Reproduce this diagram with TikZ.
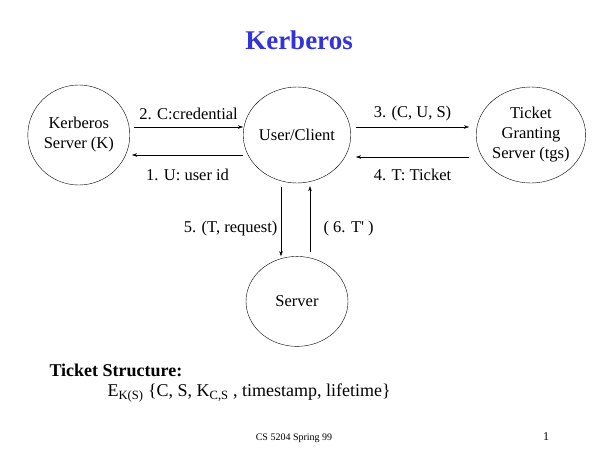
\documentclass[tikz,border=0pt]{standalone}
\usepackage{fontspec}
\setmainfont{Liberation Serif}
\usetikzlibrary{positioning,arrows.meta,shapes.geometric}
\definecolor{titleblue}{RGB}{51,51,221}

\begin{document}
\begin{tikzpicture}[x=1pt,y=-1pt,->,>={Stealth[length=5pt,width=3.5pt]},thin,
                    party/.style={draw,ellipse,inner sep=0pt,align=center,
                                  font=\fontsize{16.5}{20}\selectfont},
                    msg/.style={font=\fontsize{16.5}{20}\selectfont}]

        \useasboundingbox (0,0) rectangle (600,450);

        % Title
        \node[font=\fontsize{27}{30}\selectfont\bfseries,text=titleblue] (title) at (299,40) {Kerberos};

        % Define parties
        \node[party,minimum width=104pt,minimum height=96pt] (uc) at (297,135) {User/Client};
        \node[party,minimum width=102pt,minimum height=100pt] (ks) [left=113pt of uc] {Kerberos\\Server (K)};
        \node[party,minimum width=108pt,minimum height=96pt] (tgs) [right=125pt of uc] {Ticket\\Granting\\Server (tgs)};
        \node[party,minimum width=102pt,minimum height=90pt] (srv) [below=73pt of uc] {Server};

        % Draw messages
        \draw ([yshift=8pt,xshift=4pt]ks.east) -- ([yshift=8pt]uc.west)
            node[msg,midway,above=4pt] {2. C:credential};
        \draw ([yshift=-20pt]uc.west) -- ([yshift=-20pt,xshift=2pt]ks.east)
            node[msg,midway,below=11pt] {1. U: user id};
        \draw ([yshift=8pt,xshift=5pt]uc.east) -- ([yshift=8pt,xshift=-7pt]tgs.west)
            node[msg,midway,above=2pt] {3. (C, U, S)};
        \draw ([yshift=-22pt,xshift=-7pt]tgs.west) -- ([yshift=-22pt,xshift=5pt]uc.east)
            node[msg,midway,below=9pt] {4. T: Ticket};
        \draw ([xshift=-16pt,yshift=-4pt]uc.south) -- ([xshift=-16pt]srv.north)
            node[msg,pos=.6,left=0pt] {5. (T, request)};
        \draw ([xshift=13pt,yshift=4pt]srv.north) -- ([xshift=13pt,yshift=-3pt]uc.south)
            node[msg,pos=.36,right=10pt] {( 6. T\textquotesingle{} )};

        % Ticket structure
        \node[font=\fontsize{18}{21}\selectfont\bfseries,anchor=west] (ts) at (46,370) {Ticket Structure:};
        \node[font=\fontsize{18}{21}\selectfont,anchor=west] (tform) at (104,393)
            {E\textsubscript{K(S)} \{C, S, K\textsubscript{C,S} , timestamp, lifetime\}};

        % Footer
        \node[font=\fontsize{10}{12}\selectfont] (foot) at (294,438) {CS 5204 Spring 99};
        \node[font=\fontsize{12}{14}\selectfont] (page) at (546,437) {1};

\end{tikzpicture}
\end{document}
